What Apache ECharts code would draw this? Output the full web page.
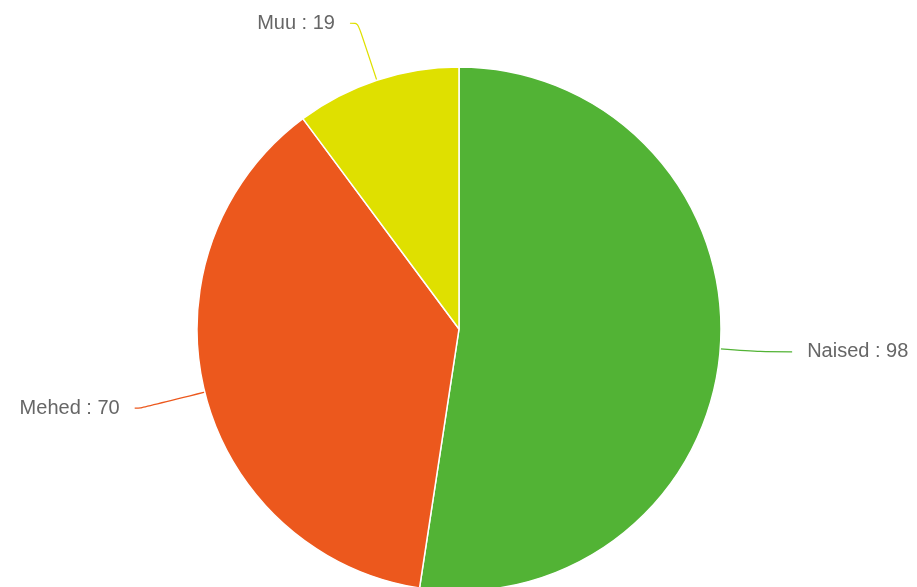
<!DOCTYPE html>
<html>
<head>
    <meta charset="utf-8" />
    <title>Pie</title>
    <script src="https://cdn.jsdelivr.net/npm/echarts@6/dist/echarts.min.js"></script>
    <style>
        html, body { margin: 0; padding: 0; background: #fff; }
        #container { width: 917px; height: 587px; }
    </style>
</head>
<body>
    <div id="container"></div>
<script>
    // data
    var categories = ['Naised', 'Mehed', 'Muu'];
    var values = [98, 70, 19];
    var colors = ['#52b335', '#ec581d', '#dfe000'];
    // label line lengths per slice [length, length2]
    var lineLens = [[40, 32], [66, 6], [60, 8]];

    var dom = document.getElementById('container');
    var myChart = echarts.init(dom);

    var seriesData = categories.map(function (name, i) {
        return {
            name: name,
            value: values[i],
            itemStyle: { color: colors[i] },
            labelLine: { length: lineLens[i][0], length2: lineLens[i][1] }
        };
    });

    var option = {
        backgroundColor: '#fff',
        animation: false,
        series: [
            {
                type: 'pie',
                center: [459, 329],
                radius: [0, 262],
                startAngle: 90,
                clockwise: true,
                avoidLabelOverlap: false,
                itemStyle: {
                    borderColor: '#fff',
                    borderWidth: 1.5
                },
                label: {
                    show: true,
                    formatter: '{b} : {c}',
                    color: '#666',
                    fontFamily: 'Liberation Sans',
                    fontSize: 20,
                    distanceToLabelLine: 15
                },
                labelLine: {
                    show: true,
                    smooth: 0.3,
                    lineStyle: { width: 1.2 }
                },
                data: seriesData
            }
        ]
    };
    myChart.setOption(option);
</script>
</body>
</html>
